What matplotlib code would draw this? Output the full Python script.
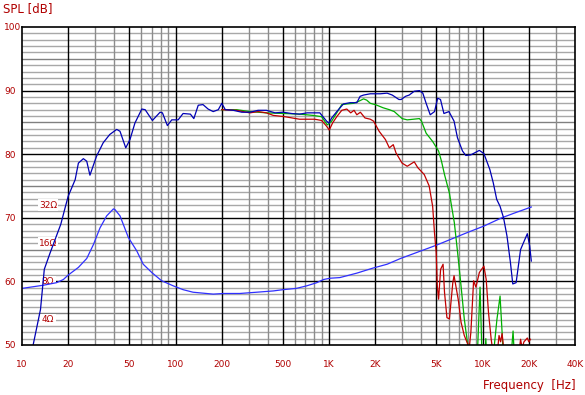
import matplotlib
matplotlib.use("Agg")
import matplotlib.pyplot as plt
import numpy as np

# ---------------- data ----------------
spl_freq = [11.7, 13.2, 13.97, 15.2, 17.9, 19.1, 20, 22.2, 23.3, 25.1, 26.4, 27.7, 30.6, 33.8, 37.3,
            41.4, 43.5, 47.4, 50.5, 54.4, 60.3, 63.4, 70.7, 79.3, 82.2, 88.5, 94.5, 104, 112, 125,
            131.6, 140.6, 151, 163, 176, 190, 200, 211, 238, 270, 305, 345, 391, 445, 501, 570,
            642, 720, 787, 871, 964, 998, 1040, 1123, 1240, 1371, 1517, 1594, 1678, 1856, 2160,
            2389, 2580, 2853, 2950, 3150, 3327, 3590, 3880, 4080, 4290, 4560, 4865, 5100, 5320,
            5600, 6040, 6520, 6860, 7400, 7780, 8390, 9530, 10200, 11150, 11740, 12360, 13000,
            13700, 14430, 15180, 15730, 16540, 17680, 19570, 20270, 20770]
spl_db = [49.5, 55.6, 61.9, 64.4, 69.0, 71.6, 73.4, 76.0, 78.6, 79.3, 78.9, 76.7, 79.7, 81.8, 83.1,
          83.9, 83.6, 81.0, 82.3, 84.9, 87.1, 87.0, 85.3, 86.6, 86.5, 84.5, 85.4, 85.4, 86.4, 86.3,
          85.6, 87.7, 87.8, 87.1, 86.7, 87.0, 88.0, 87.0, 86.9, 86.6, 86.6, 86.9, 86.9, 86.5, 86.6, 86.4,
          86.3, 86.5, 86.5, 86.5, 85.2, 84.9, 85.7, 86.7, 87.9, 88.1, 88.1, 89.1, 89.3, 89.5, 89.5,
          89.6, 89.3, 88.6, 88.6, 89.1, 89.3, 89.9, 90.0, 89.6, 88.0, 86.2, 86.7, 88.8, 88.6,
          86.4, 86.7, 85.2, 82.6, 80.5, 79.8, 79.9, 80.6, 80.1, 77.6, 75.5, 72.9, 71.8,
          70.0, 67.1, 63.0, 59.6, 59.8, 65.0, 67.5, 65.6, 63.2]

green_freq = [200, 250, 305, 391, 501, 642, 787, 894, 974, 1040, 1123, 1210, 1305, 1443, 1554, 1678,
              1760, 1856, 2000, 2250, 2470, 2660, 2990, 3230, 3880, 4000, 4290, 4730, 5170, 5400,
              5650, 6080, 6550, 6880, 7240, 7600, 7990, 8200, 9200, 9630, 9950, 10300, 10500, 10700,
              11600, 12400, 13000, 13400, 13700, 15200, 15800, 16200, 20000]
green_db = [87.0, 87.0, 86.7, 86.5, 86.4, 86.3, 86.1, 85.9, 84.6, 85.2, 86.5, 87.8, 87.9, 88.0, 88.3, 88.7,
            88.5, 88.0, 87.8, 87.3, 87.0, 86.7, 85.6, 85.4, 85.6, 85.2, 83.3, 82.0, 80.5, 78.9,
            76.8, 73.9, 69.2, 64.5, 59.3, 54.1, 50.2, 47.0, 47.0, 59.1, 47.0, 47.0, 51.0, 47.0,
            47.0, 54.0, 57.7, 52.0, 47.0, 47.0, 52.2, 47.0, 47.0]

red_freq = [200, 250, 276, 305, 345, 391, 433, 514, 642, 807, 894, 964, 1003, 1054, 1123, 1210, 1305,
            1384, 1455, 1517, 1600, 1714, 1856, 1950, 2120, 2330, 2470, 2620, 2730, 2990, 3230, 3590,
            3780, 4170, 4490, 4730, 4860, 4990, 5070, 5170, 5330, 5530, 5650, 5860, 6080, 6400, 6520,
            6960, 7240, 7600, 7990, 8150, 8390, 8740, 9050, 9530, 10200, 10560, 10930, 11380, 11670,
            12500, 12800, 13100, 13400, 13800, 17300, 17680, 18100, 18600, 19570, 20000, 20500]
red_db = [87.0, 86.9, 86.7, 86.5, 86.7, 86.5, 86.1, 85.9, 85.5, 85.5, 85.3, 84.4, 83.8, 84.9, 85.9, 86.9, 87.1,
          86.5, 86.9, 86.2, 86.6, 85.7, 85.5, 85.2, 83.6, 82.3, 81.0, 81.5, 80.2, 78.6, 78.1, 78.8,
          77.9, 76.8, 75.0, 71.8, 67.7, 64.5, 59.3, 57.2, 61.9, 62.7, 58.3, 54.3, 54.1, 59.8, 60.9,
          57.0, 53.6, 51.5, 50.2, 49.0, 52.0, 60.1, 59.1, 61.4, 62.4, 60.3, 55.1, 50.9, 49.0,
          49.0, 51.5, 50.5, 51.8, 49.0, 49.0, 50.9, 49.5, 50.5, 51.1, 50.5, 50.9]

imp_freq = [10, 13.8, 16.8, 18.6, 20, 23.3, 26.4, 29.2, 32.2, 35.6, 39.4, 40.3, 43.5, 49.3, 55.9, 61.6,
            70, 81.2, 96.7, 112, 130, 176, 205, 262, 338, 433, 501, 612, 715, 832, 921, 1016, 1176,
            1517, 1937, 2389, 2920, 5010, 7990, 10200, 13330, 16350, 20770]
imp_db = [58.9, 59.4, 59.8, 60.3, 61.0, 62.2, 63.6, 65.8, 68.4, 70.3, 71.4, 71.3, 70.3, 66.9, 64.8, 62.7,
          61.4, 60.1, 59.3, 58.7, 58.3, 58.0, 58.1, 58.1, 58.3, 58.5, 58.7, 58.9, 59.3, 59.8, 60.3, 60.5, 60.6,
          61.3, 62.1, 62.7, 63.6, 65.7, 67.7, 68.7, 70.0, 70.8, 71.7]

x_ticks = [10, 20, 50, 100, 200, 500, 1000, 2000, 5000, 10000, 20000, 40000]
x_labels = ["10", "20", "50", "100", "200", "500", "1K", "2K", "5K", "10K", "20K", "40K"]
y_ticks = [50, 60, 70, 80, 90, 100]
y_labels = ["50", "60", "70", "80", "90", "100"]
ohm_labels = ["4Ω", "8Ω", "16Ω", "32Ω"]
ohm_levels = [54, 60, 66, 72]

# ---------------- figure ----------------
W, H = 585, 395
fig = plt.figure(figsize=(W / 100, H / 100), dpi=100)
fig.patch.set_facecolor("white")
L, R, T, B = 22, 575, 27, 345
ax = fig.add_axes([L / W, 1 - B / H, (R - L) / W, (B - T) / H])
ax.set_xscale("log")
ax.set_xlim(10, 40000)
ax.set_ylim(50, 100)

textc = "#b00000"

# grid
for dec in [10, 100, 1000, 10000]:
    for m in range(1, 10):
        f = dec * m
        if f <= 10 or f >= 40000:
            continue
        if m in (1, 2, 5):
            ax.axvline(f, color="black", lw=1.0, zorder=1)
        else:
            ax.axvline(f, color="#8c8c8c", lw=1.0, zorder=0.8)
for d in range(51, 100):
    if d % 10 == 0:
        ax.axhline(d, color="black", lw=1.0, zorder=1)
    elif d % 5 == 0:
        ax.axhline(d, color="#808080", lw=1.0, zorder=0.7)
    else:
        ax.axhline(d, color="#a8a8a8", lw=1.0, zorder=0.6)

for s in ax.spines.values():
    s.set_color("black")
    s.set_linewidth(1.2)
    s.set_zorder(5)

# ohm labels
for lab, lev in zip(ohm_labels, ohm_levels):
    ax.text(10 * 10 ** ((48 - L) / 153.5), lev, lab, color=textc, fontsize=6.5,
            ha="center", va="center", zorder=2,
            bbox=dict(facecolor="white", edgecolor="none", pad=1.0))

# curves
ax.plot(imp_freq, imp_db, color="#3030ff", lw=0.9, zorder=3)
ax.plot(green_freq, green_db, color="#00b000", lw=0.9, zorder=3.2)
ax.plot(red_freq, red_db, color="#c00000", lw=0.9, zorder=3.3)
ax.plot(spl_freq, spl_db, color="#0000b4", lw=0.9, zorder=3.5)

# ticks
ax.set_xticks(x_ticks)
ax.set_xticklabels(x_labels)
ax.xaxis.set_minor_locator(matplotlib.ticker.NullLocator())
ax.set_yticks(y_ticks)
ax.set_yticklabels(y_labels)
ax.tick_params(axis="both", length=0, colors=textc, labelsize=6.5)
ax.tick_params(axis="x", pad=11)
ax.tick_params(axis="y", pad=13)
for lab in ax.get_yticklabels():
    lab.set_ha("left")

fig.text(3 / W, 1 - 9 / H, "SPL [dB]", color=textc, fontsize=8.5, ha="left", va="center")
fig.text(576 / W, 1 - 385 / H, "Frequency  [Hz]", color=textc, fontsize=8.5, ha="right", va="center")

fig.savefig("out.png", dpi=100, facecolor="white")
